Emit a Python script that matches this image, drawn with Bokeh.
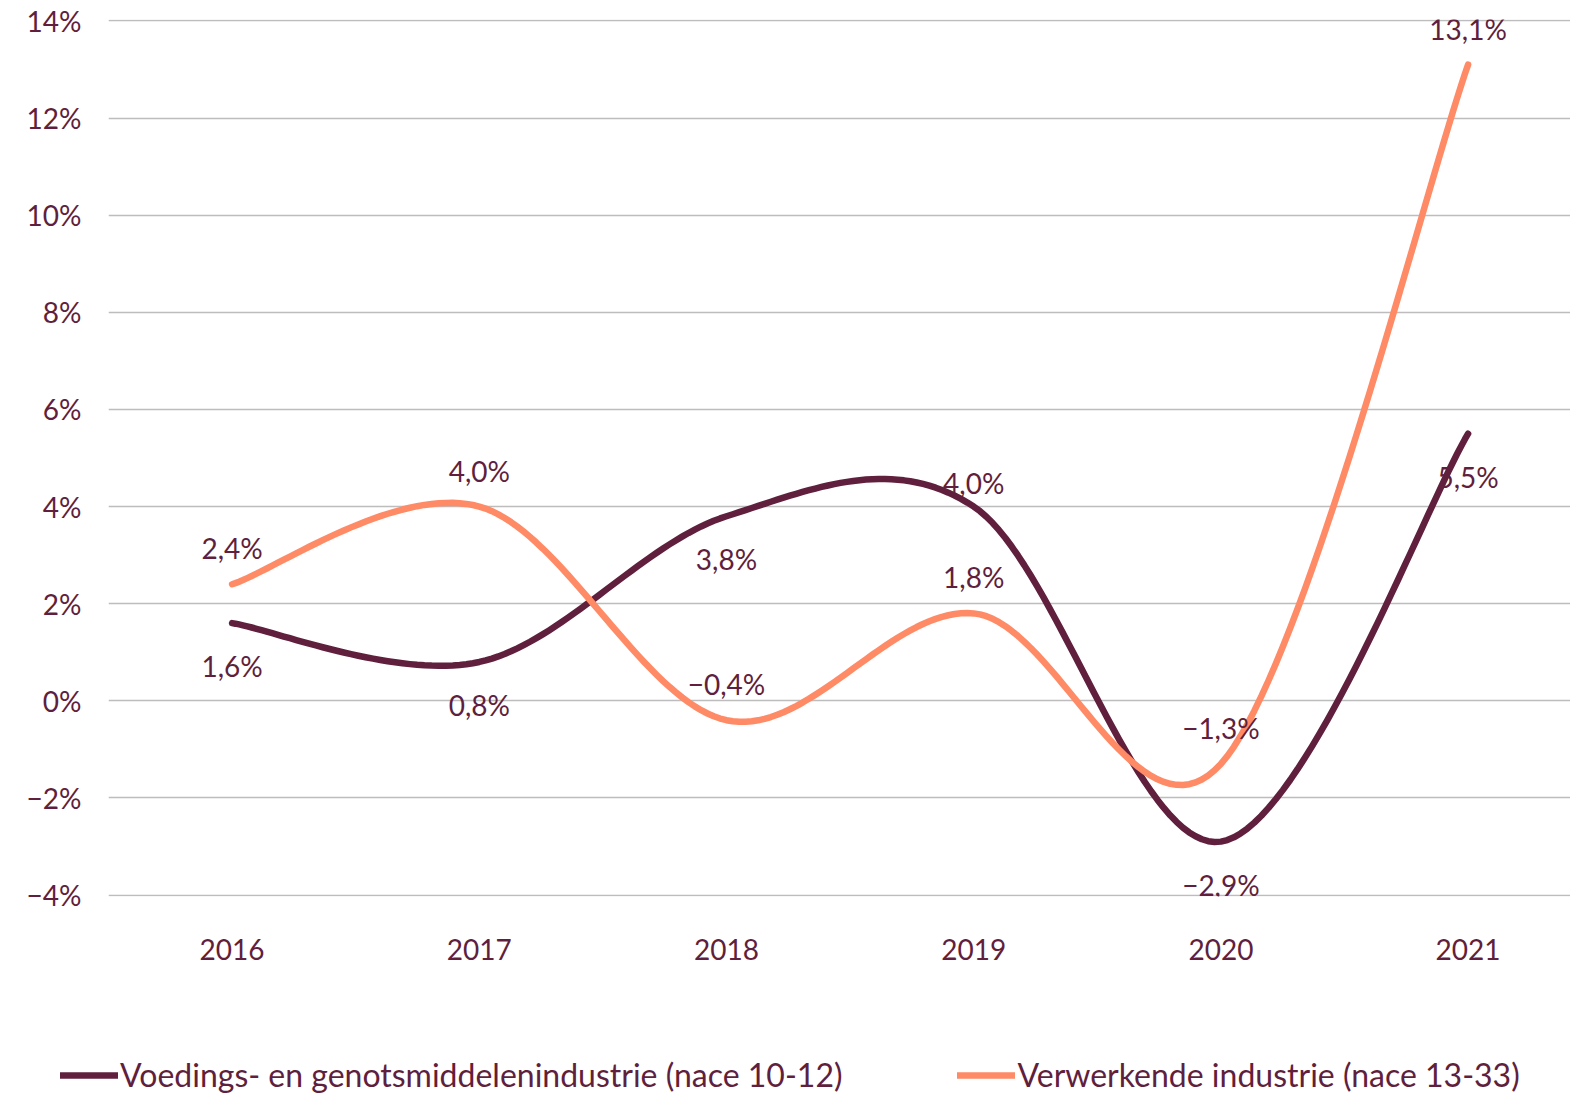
import numpy as np
from bokeh.plotting import figure
from bokeh.models import (Range1d, FixedTicker, CustomJSTickFormatter, Legend, LegendItem,
                          ColumnDataSource, LabelSet)
from bokeh.core.properties import value
from bokeh.embed import file_html
from bokeh.resources import INLINE

years = ["2016", "2017", "2018", "2019", "2020", "2021"]
food = [1.6, 0.8, 3.8, 4.0, -2.9, 5.5]
manuf = [2.4, 4.0, -0.4, 1.8, -1.3, 13.1]
food_name = "Voedings- en genotsmiddelenindustrie (nace 10-12)"
manuf_name = "Verwerkende industrie (nace 13-33)"
y_ticks = [-4, -2, 0, 2, 4, 6, 8, 10, 12, 14]

MAROON = "#5F1F3D"
ORANGE = "#FF8A66"
FONT = "Lato"
LW = 6.5


def smooth(ys, n=40):
    """Excel-like smoothed line (Catmull-Rom, Bezier control = tangent/3)."""
    xs = np.arange(len(ys), dtype=float)
    ys = np.asarray(ys, dtype=float)
    pts = np.column_stack([xs, ys])
    ox, oy = [], []
    for i in range(len(pts) - 1):
        p0 = pts[i - 1] if i > 0 else pts[i]
        p1 = pts[i]
        p2 = pts[i + 1]
        p3 = pts[i + 2] if i + 2 < len(pts) else pts[i + 1]
        c1 = p1 + (p2 - p0) / 6.0
        c2 = p2 - (p3 - p1) / 6.0
        t = np.linspace(0, 1, n)[:, None]
        b = ((1 - t) ** 3) * p1 + 3 * ((1 - t) ** 2) * t * c1 + 3 * (1 - t) * t ** 2 * c2 + t ** 3 * p2
        if i > 0:
            b = b[1:]
        ox.extend(b[:, 0])
        oy.extend(b[:, 1])
    return ox, oy


LEFT = 108
FW, FH = 1462, 877
p = figure(frame_width=FW, frame_height=FH, output_backend="svg", toolbar_location=None,
           x_range=Range1d(-0.5, -0.5 + FW / 247.2), y_range=Range1d(-4.03, 14.03),
           min_border_left=LEFT, min_border_right=0, min_border_top=19, min_border_bottom=72)
p.outline_line_color = None
p.background_fill_color = "white"
p.border_fill_color = "white"

p.xgrid.visible = False
p.ygrid.ticker = FixedTicker(ticks=y_ticks)
p.ygrid.grid_line_color = "#BDBDBD"
p.ygrid.grid_line_width = 1.4

p.yaxis.ticker = FixedTicker(ticks=y_ticks)
p.yaxis.formatter = CustomJSTickFormatter(code="return (tick < 0 ? '\u2212' : '') + Math.abs(tick) + '%';")
p.xaxis.ticker = FixedTicker(ticks=list(range(len(years))))
p.xaxis.formatter = CustomJSTickFormatter(args=dict(labels=years), code="return labels[Math.round(tick)] || '';")
for ax in (p.xaxis[0], p.yaxis[0]):
    ax.axis_line_color = None
    ax.major_tick_line_color = None
    ax.minor_tick_line_color = None
    ax.major_label_text_color = MAROON
    ax.major_label_text_font = FONT
    ax.major_label_text_font_size = "28px"
p.yaxis.major_label_standoff = 21
p.xaxis.major_label_standoff = 36

fx, fy = smooth(food)
mx, my = smooth(manuf)
p.line(fx, fy, line_color=MAROON, line_width=LW, line_cap="round", line_join="round")
p.line(mx, my, line_color=ORANGE, line_width=LW, line_cap="round", line_join="round")

xs = list(range(len(years)))


def fmt(v):
    s = f"{abs(v):.1f}".replace(".", ",") + "%"
    return ("\u2212" if v < 0 else "") + s


# y_offset in screen px, positive = up for LabelSet
src_f = ColumnDataSource(dict(x=xs, y=food, t=[fmt(v) for v in food], off=[-43, -43, -43, 24, -43, -43]))
src_m = ColumnDataSource(dict(x=xs, y=manuf, t=[fmt(v) for v in manuf], off=[36] * len(manuf)))
for src in (src_f, src_m):
    ls = LabelSet(x="x", y="y", text="t", source=src, y_offset="off", text_align="center",
                  text_baseline="middle", text_color=MAROON, text_font=value(FONT),
                  text_font_size=value("28px"))
    p.add_layout(ls)

# legend strip: a separate root (no frame alignment), frame covering its whole canvas
lg = figure(frame_width=FW + LEFT, frame_height=128, output_backend="svg", toolbar_location=None,
            x_range=Range1d(0, 1), y_range=Range1d(0, 1),
            x_axis_location=None, y_axis_location=None,
            min_border_left=0, min_border_right=0, min_border_top=0, min_border_bottom=0)
lg.outline_line_color = None
lg.grid.visible = False
d_food = lg.line([5, 6], [5, 5], line_color=MAROON, line_width=LW, line_cap="round")
d_man = lg.line([5, 6], [5, 5], line_color=ORANGE, line_width=LW, line_cap="round")
legend = Legend(items=[LegendItem(label=food_name, renderers=[d_food]),
                       LegendItem(label=manuf_name, renderers=[d_man])],
                orientation="horizontal", location=(60, 2), border_line_color=None,
                background_fill_alpha=0, label_text_font=FONT, label_text_font_size="32px",
                label_text_color=MAROON, glyph_width=58, glyph_height=34, label_standoff=2,
                spacing=115, padding=0, margin=0, label_height=34)
lg.add_layout(legend, "center")

open("out.html", "w").write(file_html([p, lg], INLINE))
